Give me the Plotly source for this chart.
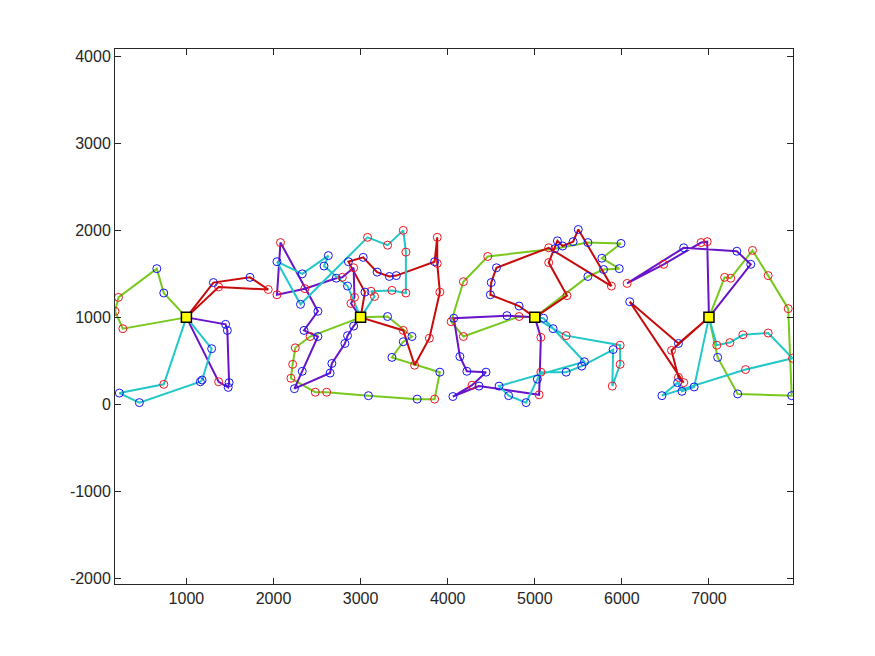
import plotly.graph_objects as go

# Depots
DEPOT_X = [1000, 3000, 5000, 7000]
DEPOT_Y = [1000, 1000, 1000, 1000]

# Route customers (visiting order). Colour code per customer: r = red circle, b = blue circle
# ---- Depot 1 ----
D1_GREEN_X = [740, 660, 220, 180, 270]
D1_GREEN_Y = [1280, 1560, 1230, 1070, 870]
D1_GREEN_C = "bbrrr"
D1_RED_X = [1310, 1730, 1940, 1370]
D1_RED_Y = [1400, 1460, 1320, 1350]
D1_RED_C = "bbrr"
D1_PURPLE_X = [1450, 1470, 1490, 1480, 1370]
D1_PURPLE_Y = [920, 850, 250, 195, 260]
D1_PURPLE_C = "bbbbr"
D1_CYAN_X = [740, 230, 460, 1160, 1180, 1290]
D1_CYAN_Y = [230, 130, 20, 260, 280, 640]
D1_CYAN_C = "rbbbbb"

# ---- Depot 2 ----
D2_GREEN_X = [3310, 3590, 3490, 3360, 3910, 3850, 3650, 3090, 2610, 2480, 2200, 2220, 2250, 2420]
D2_GREEN_Y = [1010, 780, 720, 540, 370, 60, 60, 100, 140, 140, 300, 460, 650, 780]
D2_GREEN_C = "bbbbbrbbrrrrrr"
D2_RED_X = [3490, 3620, 3790, 3910, 3880, 3880, 3850, 3410, 3330, 3190, 3030, 2860, 3050]
D2_RED_Y = [850, 450, 760, 1290, 1620, 1920, 1640, 1480, 1470, 1520, 1690, 1640, 1290]
D2_RED_C = "rrrrrrbbbbbbb"
D2_PURPLE_X = [2920, 2850, 2820, 2670, 2650, 2240, 2330, 2510, 2350, 2510, 2080, 2040, 2360, 2720, 2790,
               2920, 2930, 2890]
D2_PURPLE_Y = [900, 790, 700, 470, 360, 180, 380, 780, 850, 1070, 1860, 1260, 1330, 1450, 1460,
               1570, 1230, 1160]
D2_PURPLE_C = "bbbbbbbbbbrrrbrrrr"
D2_CYAN_X = [3160, 3120, 3360, 3520, 3520, 3490, 3310, 3080, 2310, 2040, 2330, 2630, 2580, 2850]
D2_CYAN_Y = [1240, 1300, 1310, 1280, 1750, 2000, 1830, 1920, 1150, 1640, 1500, 1710, 1590, 1360]
D2_CYAN_C = "rrrrrrrrbbbbbb"

# ---- Depot 3 ----
D3_GREEN_X = [5610, 5790, 5970, 5770, 5990, 5610, 5230, 4460, 4180, 4040, 4180, 4820]
D3_GREEN_Y = [1470, 1550, 1560, 1680, 1850, 1860, 1790, 1700, 1410, 950, 780, 1010]
D3_GREEN_C = "bbbbbbbrrrrr"
D3_RED_X = [4820, 4490, 4500, 4560, 5160, 5880, 5500, 5440, 5320, 5260, 5160, 5370]
D3_RED_Y = [1130, 1260, 1400, 1570, 1800, 1360, 2010, 1870, 1820, 1880, 1630, 1250]
D3_RED_C = "bbbbrrbbbbrr"
D3_PURPLE_X = [4680, 4070, 4140, 4220, 4440, 4280, 4060, 4360, 5050, 5070]
D3_PURPLE_Y = [1020, 990, 550, 380, 370, 220, 90, 210, 110, 770]
D3_PURPLE_C = "bbbbbrbbrr"
D3_CYAN_X = [5100, 5570, 4590, 4700, 4900, 5030, 5070, 5360, 5540, 5900, 5890, 5980, 5980, 5360, 5210]
D3_CYAN_Y = [990, 490, 210, 100, 20, 290, 370, 370, 440, 630, 210, 460, 680, 790, 870]
D3_CYAN_C = "bbbbbbrbbbrrrrb"

# ---- Depot 4 ----
D4_GREEN_X = [7180, 7250, 7500, 7680, 7910, 7950, 7330, 7100]
D4_GREEN_Y = [1460, 1450, 1770, 1480, 1100, 100, 120, 540]
D4_GREEN_C = "rrrrrbbb"
D4_RED_X = [6650, 6090, 6710, 6650, 6570]
D4_RED_Y = [700, 1180, 250, 310, 620]
D4_RED_C = "bbrrr"
D4_PURPLE_X = [6980, 6910, 6480, 6060, 6710, 7320, 7480]
D4_PURPLE_Y = [1870, 1860, 1610, 1390, 1800, 1760, 1610]
D4_PURPLE_C = "rrrrbbb"
D4_CYAN_X = [7090, 7240, 7390, 7680, 7960, 7420, 6460, 6640, 6690, 6830]
D4_CYAN_Y = [680, 710, 800, 820, 530, 400, 100, 250, 150, 200]
D4_CYAN_C = "rrrrrrbbbb"

X_TICKS = [1000, 2000, 3000, 4000, 5000, 6000, 7000]
Y_TICKS = [-2000, -1000, 0, 1000, 2000, 3000, 4000]
X_TICK_LABELS = ["1000", "2000", "3000", "4000", "5000", "6000", "7000"]
Y_TICK_LABELS = ["-2000", "-1000", "0", "1000", "2000", "3000", "4000"]

ROUTE_COLORS = {"green": "#78C81E", "red": "#C80A0A", "purple": "#6A14C8", "cyan": "#22C8C8"}

routes = [
    (0, "green", D1_GREEN_X, D1_GREEN_Y, D1_GREEN_C),
    (0, "red", D1_RED_X, D1_RED_Y, D1_RED_C),
    (0, "purple", D1_PURPLE_X, D1_PURPLE_Y, D1_PURPLE_C),
    (0, "cyan", D1_CYAN_X, D1_CYAN_Y, D1_CYAN_C),
    (1, "green", D2_GREEN_X, D2_GREEN_Y, D2_GREEN_C),
    (1, "red", D2_RED_X, D2_RED_Y, D2_RED_C),
    (1, "purple", D2_PURPLE_X, D2_PURPLE_Y, D2_PURPLE_C),
    (1, "cyan", D2_CYAN_X, D2_CYAN_Y, D2_CYAN_C),
    (2, "green", D3_GREEN_X, D3_GREEN_Y, D3_GREEN_C),
    (2, "red", D3_RED_X, D3_RED_Y, D3_RED_C),
    (2, "purple", D3_PURPLE_X, D3_PURPLE_Y, D3_PURPLE_C),
    (2, "cyan", D3_CYAN_X, D3_CYAN_Y, D3_CYAN_C),
    (3, "green", D4_GREEN_X, D4_GREEN_Y, D4_GREEN_C),
    (3, "red", D4_RED_X, D4_RED_Y, D4_RED_C),
    (3, "purple", D4_PURPLE_X, D4_PURPLE_Y, D4_PURPLE_C),
    (3, "cyan", D4_CYAN_X, D4_CYAN_Y, D4_CYAN_C),
]

fig = go.Figure()

red_x, red_y, blue_x, blue_y = [], [], [], []
for d, cname, xs, ys, cs in routes:
    px = [DEPOT_X[d]] + list(xs) + [DEPOT_X[d]]
    py = [DEPOT_Y[d]] + list(ys) + [DEPOT_Y[d]]
    fig.add_trace(go.Scatter(x=px, y=py, mode="lines",
                             line=dict(color=ROUTE_COLORS[cname], width=2),
                             hoverinfo="skip", showlegend=False))
    for x, y, c in zip(xs, ys, cs):
        if c == "r":
            red_x.append(x); red_y.append(y)
        else:
            blue_x.append(x); blue_y.append(y)

fig.add_trace(go.Scatter(x=red_x, y=red_y, mode="markers",
                         marker=dict(symbol="circle-open", size=8, color="#F0141E",
                                     line=dict(width=1, color="#F0141E")),
                         hoverinfo="skip", showlegend=False))
fig.add_trace(go.Scatter(x=blue_x, y=blue_y, mode="markers",
                         marker=dict(symbol="circle-open", size=8, color="#1414F0",
                                     line=dict(width=1, color="#1414F0")),
                         hoverinfo="skip", showlegend=False))
fig.add_trace(go.Scatter(x=DEPOT_X, y=DEPOT_Y, mode="markers",
                         marker=dict(symbol="square", size=10, color="#FFFF00",
                                     line=dict(width=1.5, color="black")),
                         hoverinfo="skip", showlegend=False))

axis_common = dict(showgrid=False, zeroline=False, showline=True, linecolor="#262626",
                   linewidth=1, mirror="ticks", ticks="inside", ticklen=6,
                   tickcolor="#262626", tickfont=dict(family="Liberation Sans, Arial", size=16,
                                                      color="#262626"))

fig.update_layout(
    width=867, height=648,
    margin=dict(l=107, r=82, t=41, b=72),
    paper_bgcolor="white", plot_bgcolor="white",
    xaxis=dict(range=[180, 7965], tickvals=X_TICKS, ticktext=X_TICK_LABELS, **axis_common),
    yaxis=dict(range=[-2065, 4085], tickvals=Y_TICKS, ticktext=Y_TICK_LABELS, **axis_common),
    hovermode=False,
)

fig.write_html("out.html")
